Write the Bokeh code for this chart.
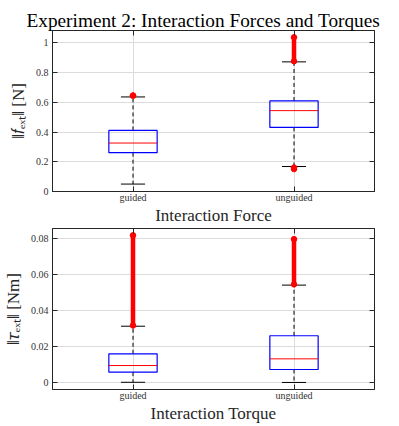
from bokeh.plotting import figure
from bokeh.layouts import column
from bokeh.models import LinearAxis, FixedTicker, Range1d
from bokeh.embed import file_html
from bokeh.resources import INLINE

# ---------------- data ----------------
groups = ["guided", "unguided"]
group_x = [1, 2]

force_q1 = [0.261, 0.431]
force_med = [0.326, 0.544]
force_q3 = [0.411, 0.609]
force_wlo = [0.050, 0.168]
force_whi = [0.636, 0.872]
force_out_x = [1, 2, 2]
force_out_lo = [0.645, 0.876, 0.151]
force_out_hi = [0.645, 1.037, 0.161]

torque_q1 = [0.0059, 0.0074]
torque_med = [0.0096, 0.0133]
torque_q3 = [0.0161, 0.0261]
torque_wlo = [0.0003, 0.0002]
torque_whi = [0.0314, 0.0542]
torque_out_x = [1, 2]
torque_out_lo = [0.0318, 0.0546]
torque_out_hi = [0.0818, 0.0797]

force_ticks = [0, 0.2, 0.4, 0.6, 0.8, 1]
force_tick_labels = ["0", "0.2", "0.4", "0.6", "0.8", "1"]
torque_ticks = [0, 0.02, 0.04, 0.06, 0.08]
torque_tick_labels = ["0", "0.02", "0.04", "0.06", "0.08"]

FONT = "Liberation Serif"
AX = "#262626"
GRID = "#dcdcdc"
BOX_W = 0.3
CAP_W = 0.15


def make_panel(q1, med, q3, wlo, whi, ox, olo, ohi, ticks, tick_labels, yr,
               ylabel, xlabel, title=None, top_border=3):
    p = figure(frame_width=322, frame_height=161, output_backend="svg",
               toolbar_location=None, x_range=Range1d(0.5, 2.5),
               y_range=Range1d(*yr), min_border_left=42, min_border_right=19,
               min_border_top=top_border, min_border_bottom=0)
    p.background_fill_color = "white"
    p.border_fill_color = "white"
    p.outline_line_color = AX
    p.outline_line_width = 1

    # grid
    p.xgrid.ticker = FixedTicker(ticks=group_x)
    p.ygrid.ticker = FixedTicker(ticks=ticks)
    p.xgrid.grid_line_color = GRID
    p.ygrid.grid_line_color = GRID

    # axes
    p.xaxis.ticker = FixedTicker(ticks=group_x)
    p.xaxis.major_label_overrides = {g: n for g, n in zip(group_x, groups)}
    p.yaxis.ticker = FixedTicker(ticks=ticks)
    p.yaxis.major_label_overrides = {t: l for t, l in zip(ticks, tick_labels)}
    for ax in (p.xaxis[0], p.yaxis[0]):
        ax.axis_line_color = AX
        ax.major_tick_line_color = AX
        ax.major_tick_in = 5
        ax.major_tick_out = 0
        ax.minor_tick_line_color = None
        ax.major_label_text_font = FONT
        ax.major_label_text_font_size = "10px"
        ax.major_label_text_color = "#333333"
        ax.axis_label_text_font = FONT
        ax.axis_label_text_font_style = "normal"
        ax.axis_label_text_color = AX
        ax.axis_label_text_font_size = "17px"
    p.xaxis.axis_label = xlabel
    p.yaxis.axis_label = ylabel
    p.xaxis.major_label_standoff = 0
    p.xaxis.axis_label_standoff = 0
    p.yaxis.major_label_standoff = 4
    p.yaxis.axis_label_standoff = 5

    top_ax = LinearAxis(ticker=FixedTicker(ticks=group_x))
    right_ax = LinearAxis(ticker=FixedTicker(ticks=ticks))
    top_ax.major_label_overrides = {g: "" for g in group_x}
    right_ax.major_label_overrides = {t: "" for t in ticks}
    for ax in (top_ax, right_ax):
        ax.axis_line_color = AX
        ax.major_tick_line_color = AX
        ax.major_tick_in = 5
        ax.major_tick_out = 0
        ax.minor_tick_line_color = None
        ax.major_label_text_font_size = "1px"
        ax.major_label_standoff = 0
    p.add_layout(top_ax, "above")
    p.add_layout(right_ax, "right")

    if title:
        p.title.text = title
        p.title.text_font = FONT
        p.title.text_font_size = "19.3px"
        p.title.text_font_style = "normal"
        p.title.text_color = "black"
        p.title.align = "left"
        p.title.offset = -26
        p.title.standoff = 0

    # whiskers
    p.segment(x0=group_x, y0=q3, x1=group_x, y1=whi, line_color="black",
              line_dash="4 3", line_width=1)
    p.segment(x0=group_x, y0=q1, x1=group_x, y1=wlo, line_color="black",
              line_dash="4 3", line_width=1)
    p.segment(x0=[g - CAP_W / 2 for g in group_x], y0=whi,
              x1=[g + CAP_W / 2 for g in group_x], y1=whi,
              line_color="black", line_width=1)
    p.segment(x0=[g - CAP_W / 2 for g in group_x], y0=wlo,
              x1=[g + CAP_W / 2 for g in group_x], y1=wlo,
              line_color="black", line_width=1)
    # boxes
    p.quad(left=[g - BOX_W / 2 for g in group_x],
           right=[g + BOX_W / 2 for g in group_x],
           bottom=q1, top=q3, fill_alpha=0, line_color="#0000ff",
           line_width=1.2)
    p.segment(x0=[g - BOX_W / 2 for g in group_x], y0=med,
              x1=[g + BOX_W / 2 for g in group_x], y1=med,
              line_color="#ff0000", line_width=1)
    # outliers
    p.segment(x0=ox, y0=olo, x1=ox, y1=ohi, line_color="#ff0000",
              line_width=4.5)
    p.scatter(x=ox + ox, y=olo + ohi, size=5.5, marker="circle",
              fill_color="#ff0000", line_color="#ff0000")
    return p


p1 = make_panel(force_q1, force_med, force_q3, force_wlo, force_whi,
                force_out_x, force_out_lo, force_out_hi,
                force_ticks, force_tick_labels, (0.0, 1.083),
                "‖𝑓ₑₓₜ‖ [N]", "Interaction Force",
                title="Experiment 2: Interaction Forces and Torques",
                top_border=30)
p2 = make_panel(torque_q1, torque_med, torque_q3, torque_wlo, torque_whi,
                torque_out_x, torque_out_lo, torque_out_hi,
                torque_ticks, torque_tick_labels, (-0.0037, 0.0856),
                "‖𝜏ₑₓₜ‖ [Nm]", "Interaction Torque", top_border=1)

layout = column(p1, p2, spacing=0)
open("out.html", "w").write(file_html(layout, INLINE))
